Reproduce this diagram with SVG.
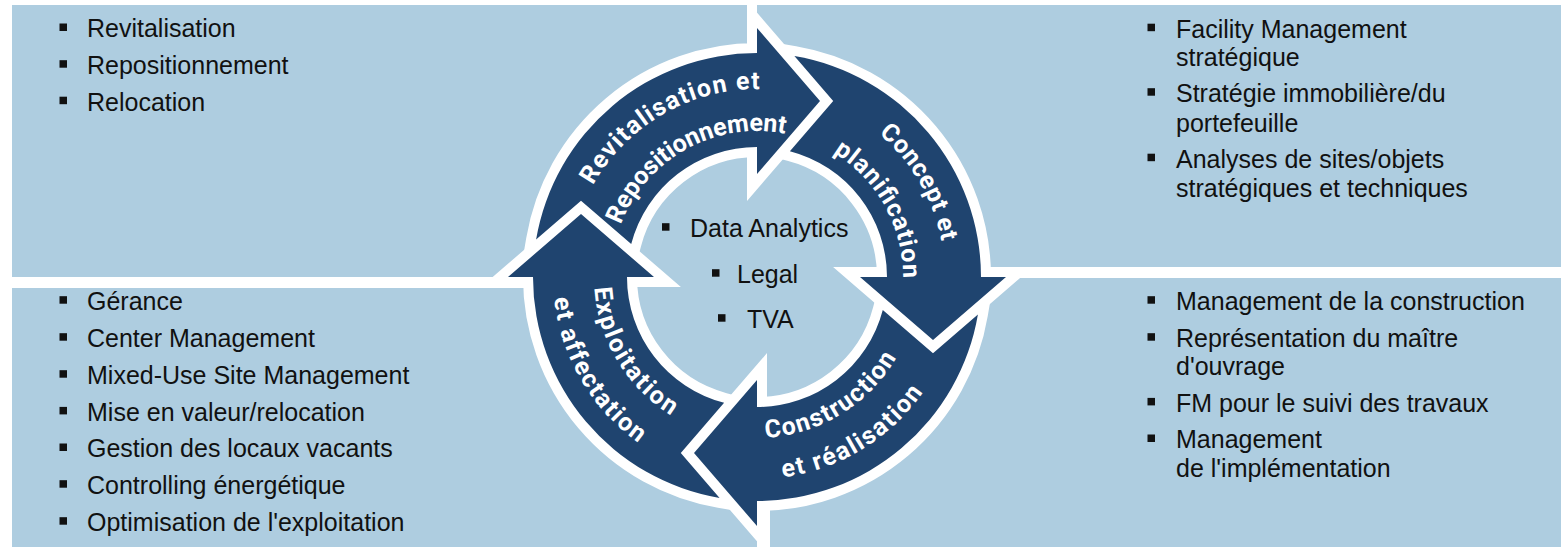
<svg xmlns="http://www.w3.org/2000/svg" width="1561" height="547" viewBox="0 0 1561 547">
<style>
.panel{fill:#aecde0}
.t{font-family:"Liberation Sans",Arial,sans-serif;font-size:25px;fill:#111}
.b{fill:#111}
.ol{fill:#fff;stroke:#fff;stroke-width:20;stroke-linejoin:miter;stroke-miterlimit:4}
.seg{fill:#1f446f}
.lbl{font-family:Roboto,"DejaVu Sans",sans-serif;font-weight:700;font-size:25px;fill:#fff}
</style>
<defs>
<path id="segshape" d="M-220.9,-37.4 A224,224 0 0 1 0,-224 L0,-249 L63,-176 L0,-103 L0,-130 A130,130 0 0 0 -125.8,-32.9 L-176,-76.2 Z"/>
<path id="arcTopOuter" d="M571.9,309.6 A188,188 0 0 1 877.8,133.0"/>
<path id="arcTopInner" d="M612.8,299.8 A146,146 0 0 1 852.8,166.8"/>
<path id="arcRightOuter" d="M723.4,92.0 A188,188 0 0 1 901.6,397.1"/>
<path id="arcRightInner" d="M734.2,132.8 A146,146 0 0 1 867.2,372.8"/>
<path id="arcBottomInner" d="M656.8,403.0 A161,161 0 0 0 914.8,244.9"/>
<path id="arcBottomOuter" d="M630.7,434.6 A202,202 0 0 0 955.1,237.4"/>
<path id="arcLeftInner" d="M630.3,174.4 A163,163 0 0 0 788.1,437.0"/>
<path id="arcLeftOuter" d="M600.3,146.4 A204,204 0 0 0 793.1,477.8"/>
</defs>
<rect width="1561" height="547" fill="#fff"/>

<g id="panel-top-left">
<rect class="panel" x="12" y="5" width="738" height="272"/>
<rect class="b" x="59.5" y="23.5" width="7.5" height="7.5"/>
<text class="t" x="87" y="37.3">Revitalisation</text>
<rect class="b" x="59.5" y="60.2" width="7.5" height="7.5"/>
<text class="t" x="87" y="74">Repositionnement</text>
<rect class="b" x="59.5" y="96.7" width="7.5" height="7.5"/>
<text class="t" x="87" y="110.5">Relocation</text>
</g>

<g id="panel-top-right">
<rect class="panel" x="757" y="5" width="804" height="262"/>
<rect class="b" x="1147.5" y="23.7" width="7.5" height="7.5"/>
<text class="t" x="1176" y="37.5">Facility Management</text>
<text class="t" x="1176" y="66">stratégique</text>
<rect class="b" x="1147.5" y="88.2" width="7.5" height="7.5"/>
<text class="t" x="1176" y="102">Stratégie immobilière/du</text>
<text class="t" x="1176" y="131.5">portefeuille</text>
<rect class="b" x="1147.5" y="153.7" width="7.5" height="7.5"/>
<text class="t" x="1176" y="167.5">Analyses de sites/objets</text>
<text class="t" x="1176" y="197">stratégiques et techniques</text>
</g>

<g id="panel-bottom-left">
<rect class="panel" x="12" y="288" width="745" height="259"/>
<rect class="b" x="59.5" y="296.2" width="7.5" height="7.5"/>
<text class="t" x="87" y="310">Gérance</text>
<rect class="b" x="59.5" y="333.2" width="7.5" height="7.5"/>
<text class="t" x="87" y="347">Center Management</text>
<rect class="b" x="59.5" y="370.2" width="7.5" height="7.5"/>
<text class="t" x="87" y="384">Mixed-Use Site Management</text>
<rect class="b" x="59.5" y="406.9" width="7.5" height="7.5"/>
<text class="t" x="87" y="420.7">Mise en valeur/relocation</text>
<rect class="b" x="59.5" y="443.5" width="7.5" height="7.5"/>
<text class="t" x="87" y="457.3">Gestion des locaux vacants</text>
<rect class="b" x="59.5" y="480.2" width="7.5" height="7.5"/>
<text class="t" x="87" y="494">Controlling énergétique</text>
<rect class="b" x="59.5" y="517.2" width="7.5" height="7.5"/>
<text class="t" x="87" y="531">Optimisation de l'exploitation</text>
</g>

<g id="panel-bottom-right">
<rect class="panel" x="770" y="278" width="791" height="269"/>
<rect class="b" x="1147.5" y="296.2" width="7.5" height="7.5"/>
<text class="t" x="1176" y="310">Management de la construction</text>
<rect class="b" x="1147.5" y="333.2" width="7.5" height="7.5"/>
<text class="t" x="1176" y="347">Représentation du maître</text>
<text class="t" x="1176" y="375">d'ouvrage</text>
<rect class="b" x="1147.5" y="397.9" width="7.5" height="7.5"/>
<text class="t" x="1176" y="411.7">FM pour le suivi des travaux</text>
<rect class="b" x="1147.5" y="434.5" width="7.5" height="7.5"/>
<text class="t" x="1176" y="448.3">Management</text>
<text class="t" x="1176" y="477.3">de l'implémentation</text>
</g>

<g id="center">
<circle class="panel" cx="757" cy="277" r="121"/>
<rect class="b" x="662" y="223.2" width="7.5" height="7.5"/>
<text class="t" x="690" y="237">Data Analytics</text>
<rect class="b" x="712" y="269.2" width="7.5" height="7.5"/>
<text class="t" x="737" y="283">Legal</text>
<rect class="b" x="718" y="314.2" width="7.5" height="7.5"/>
<text class="t" x="747" y="328">TVA</text>
</g>

<g id="connectors">
<use href="#segshape" class="ol" transform="translate(757 277)"/>
<use href="#segshape" class="ol" transform="translate(757 277) rotate(90)"/>
<use href="#segshape" class="ol" transform="translate(757 277) rotate(180)"/>
<use href="#segshape" class="ol" transform="translate(757 277) rotate(270)"/>
</g>

<g id="node-revitalisation">
<use href="#segshape" class="seg" transform="translate(757 277)"/>
<text class="lbl" text-anchor="middle"><textPath href="#arcTopOuter" startOffset="50%" textLength="202" lengthAdjust="spacing">Revitalisation et</textPath></text>
<text class="lbl" text-anchor="middle"><textPath href="#arcTopInner" startOffset="50%" textLength="204" lengthAdjust="spacing">Repositionnement</textPath></text>
</g>

<g id="node-concept">
<use href="#segshape" class="seg" transform="translate(757 277) rotate(90)"/>
<text class="lbl" text-anchor="middle"><textPath href="#arcRightOuter" startOffset="50%" textLength="127" lengthAdjust="spacing">Concept et</textPath></text>
<text class="lbl" text-anchor="middle"><textPath href="#arcRightInner" startOffset="50%" textLength="150" lengthAdjust="spacing">planification</textPath></text>
</g>

<g id="node-construction">
<use href="#segshape" class="seg" transform="translate(757 277) rotate(180)"/>
<text class="lbl" text-anchor="middle"><textPath href="#arcBottomInner" startOffset="50%" textLength="160" lengthAdjust="spacing">Construction</textPath></text>
<text class="lbl" text-anchor="middle"><textPath href="#arcBottomOuter" startOffset="50%" textLength="169" lengthAdjust="spacing">et réalisation</textPath></text>
</g>

<g id="node-exploitation">
<use href="#segshape" class="seg" transform="translate(757 277) rotate(270)"/>
<text class="lbl" text-anchor="middle"><textPath href="#arcLeftInner" startOffset="50%" textLength="155" lengthAdjust="spacing">Exploitation</textPath></text>
<text class="lbl" text-anchor="middle"><textPath href="#arcLeftOuter" startOffset="50%" textLength="173" lengthAdjust="spacing">et affectation</textPath></text>
</g>
</svg>
